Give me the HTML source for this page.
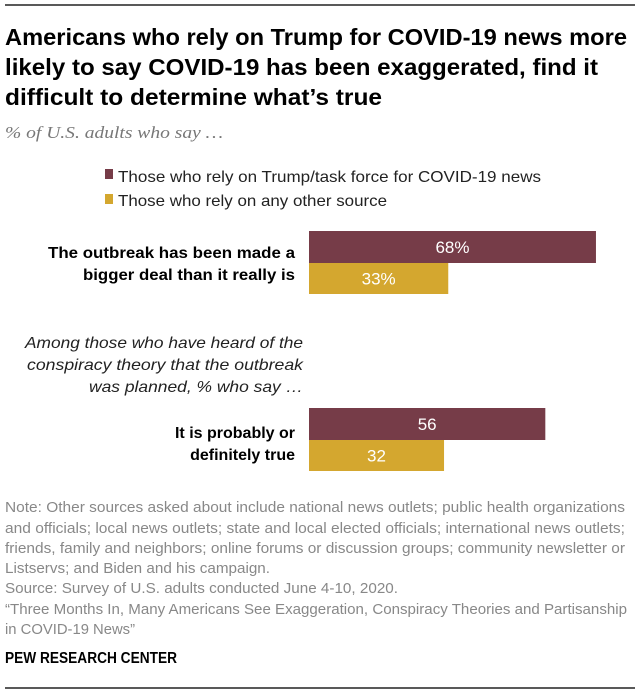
<!DOCTYPE html>
<html><head><meta charset="utf-8"><style>
html,body{margin:0;padding:0;background:#fff;}
svg{display:block;font-family:"Liberation Sans Narrow","Liberation Sans",sans-serif;}
</style></head><body>
<svg width="640" height="694" viewBox="0 0 640 694">
<line x1="5" y1="5" x2="635" y2="5" stroke="#222" stroke-width="1.5"/>
<g font-weight="bold" font-size="23" fill="#000">
<text x="5" y="45" textLength="622" lengthAdjust="spacingAndGlyphs">Americans who rely on Trump for COVID-19 news more</text>
<text x="5" y="75" textLength="593" lengthAdjust="spacingAndGlyphs">likely to say COVID-19 has been exaggerated, find it</text>
<text x="5" y="105" textLength="377" lengthAdjust="spacingAndGlyphs">difficult to determine what’s true</text>
</g>
<text x="5" y="138" font-family="Liberation Serif,serif" font-style="italic" font-size="17" fill="#777" textLength="218" lengthAdjust="spacingAndGlyphs">% of U.S. adults who say …</text>
<g font-size="16" fill="#222">
<rect x="105" y="169" width="8" height="10" fill="#763c48"/>
<text x="118" y="182" textLength="423" lengthAdjust="spacingAndGlyphs">Those who rely on Trump/task force for COVID-19 news</text>
<rect x="105" y="194" width="8" height="10" fill="#d4a72f"/>
<text x="118" y="206" textLength="269" lengthAdjust="spacingAndGlyphs">Those who rely on any other source</text>
</g>
<g font-weight="bold" font-size="16" fill="#000" text-anchor="end">
<text x="295" y="258" textLength="247" lengthAdjust="spacingAndGlyphs">The outbreak has been made a</text>
<text x="295" y="280" textLength="212" lengthAdjust="spacingAndGlyphs">bigger deal than it really is</text>
<text x="295" y="438">It is probably or</text>
<text x="295" y="460">definitely true</text>
</g>
<g font-style="italic" font-size="16" fill="#222" text-anchor="end" font-family="Liberation Sans,sans-serif">
<text x="303" y="348" textLength="278" lengthAdjust="spacingAndGlyphs">Among those who have heard of the</text>
<text x="303" y="370" textLength="276" lengthAdjust="spacingAndGlyphs">conspiracy theory that the outbreak</text>
<text x="303" y="392" textLength="214" lengthAdjust="spacingAndGlyphs">was planned, % who say …</text>
</g>
<g id="bars"></g>
<g font-size="15" fill="#888">
<text x="5" y="512" textLength="620" lengthAdjust="spacingAndGlyphs">Note: Other sources asked about include national news outlets; public health organizations</text>
<text x="5" y="533" textLength="620" lengthAdjust="spacingAndGlyphs">and officials; local news outlets; state and local elected officials; international news outlets;</text>
<text x="5" y="553" textLength="620" lengthAdjust="spacingAndGlyphs">friends, family and neighbors; online forums or discussion groups; community newsletter or</text>
<text x="5" y="573" textLength="265" lengthAdjust="spacingAndGlyphs">Listservs; and Biden and his campaign.</text>
<text x="5" y="593" textLength="393" lengthAdjust="spacingAndGlyphs">Source: Survey of U.S. adults conducted June 4-10, 2020.</text>
<text x="5" y="614" textLength="622" lengthAdjust="spacingAndGlyphs">“Three Months In, Many Americans See Exaggeration, Conspiracy Theories and Partisanship</text>
<text x="5" y="634" textLength="130" lengthAdjust="spacingAndGlyphs">in COVID-19 News”</text>
</g>
<text x="5" y="663" font-size="16" font-weight="bold" fill="#000" textLength="172" lengthAdjust="spacingAndGlyphs">PEW RESEARCH CENTER</text>
<line x1="5" y1="688" x2="635" y2="688" stroke="#222" stroke-width="1.5"/>
</svg>
<script>
const categories = ["bigger-deal", "probably-true"];
const trumpValues = [68, 56];
const otherValues = [33, 32];
const trumpLabels = ["68%", "56"];
const otherLabels = ["33%", "32"];

const x0 = 309, pxPer = 4.22;
const xs = v => v * pxPer;
const groupTop = [231, 408];
const barH = 32;
const ns = "http://www.w3.org/2000/svg";
const g = document.getElementById('bars');
function bar(x, y, w, h, fill, lbl, name) {
  const r = document.createElementNS(ns, 'rect');
  r.setAttribute('x', x); r.setAttribute('y', y);
  r.setAttribute('width', w); r.setAttribute('height', h);
  r.setAttribute('fill', fill);
  
  
  g.appendChild(r);
  const t = document.createElementNS(ns, 'text');
  t.setAttribute('x', x + w / 2); t.setAttribute('y', y + h / 2 + 6);
  t.setAttribute('text-anchor', 'middle'); t.setAttribute('fill', '#fff');
  t.setAttribute('font-size', '17');
  t.textContent = lbl;
  
  
  g.appendChild(t);
}
categories.forEach((c, i) => {
  bar(x0, groupTop[i], xs(trumpValues[i]), barH, '#763c48', trumpLabels[i], 'bar-trump-' + c);
  bar(x0, groupTop[i] + barH, xs(otherValues[i]), barH - 1, '#d4a72f', otherLabels[i], 'bar-other-' + c);
});
</script>
</body></html>
